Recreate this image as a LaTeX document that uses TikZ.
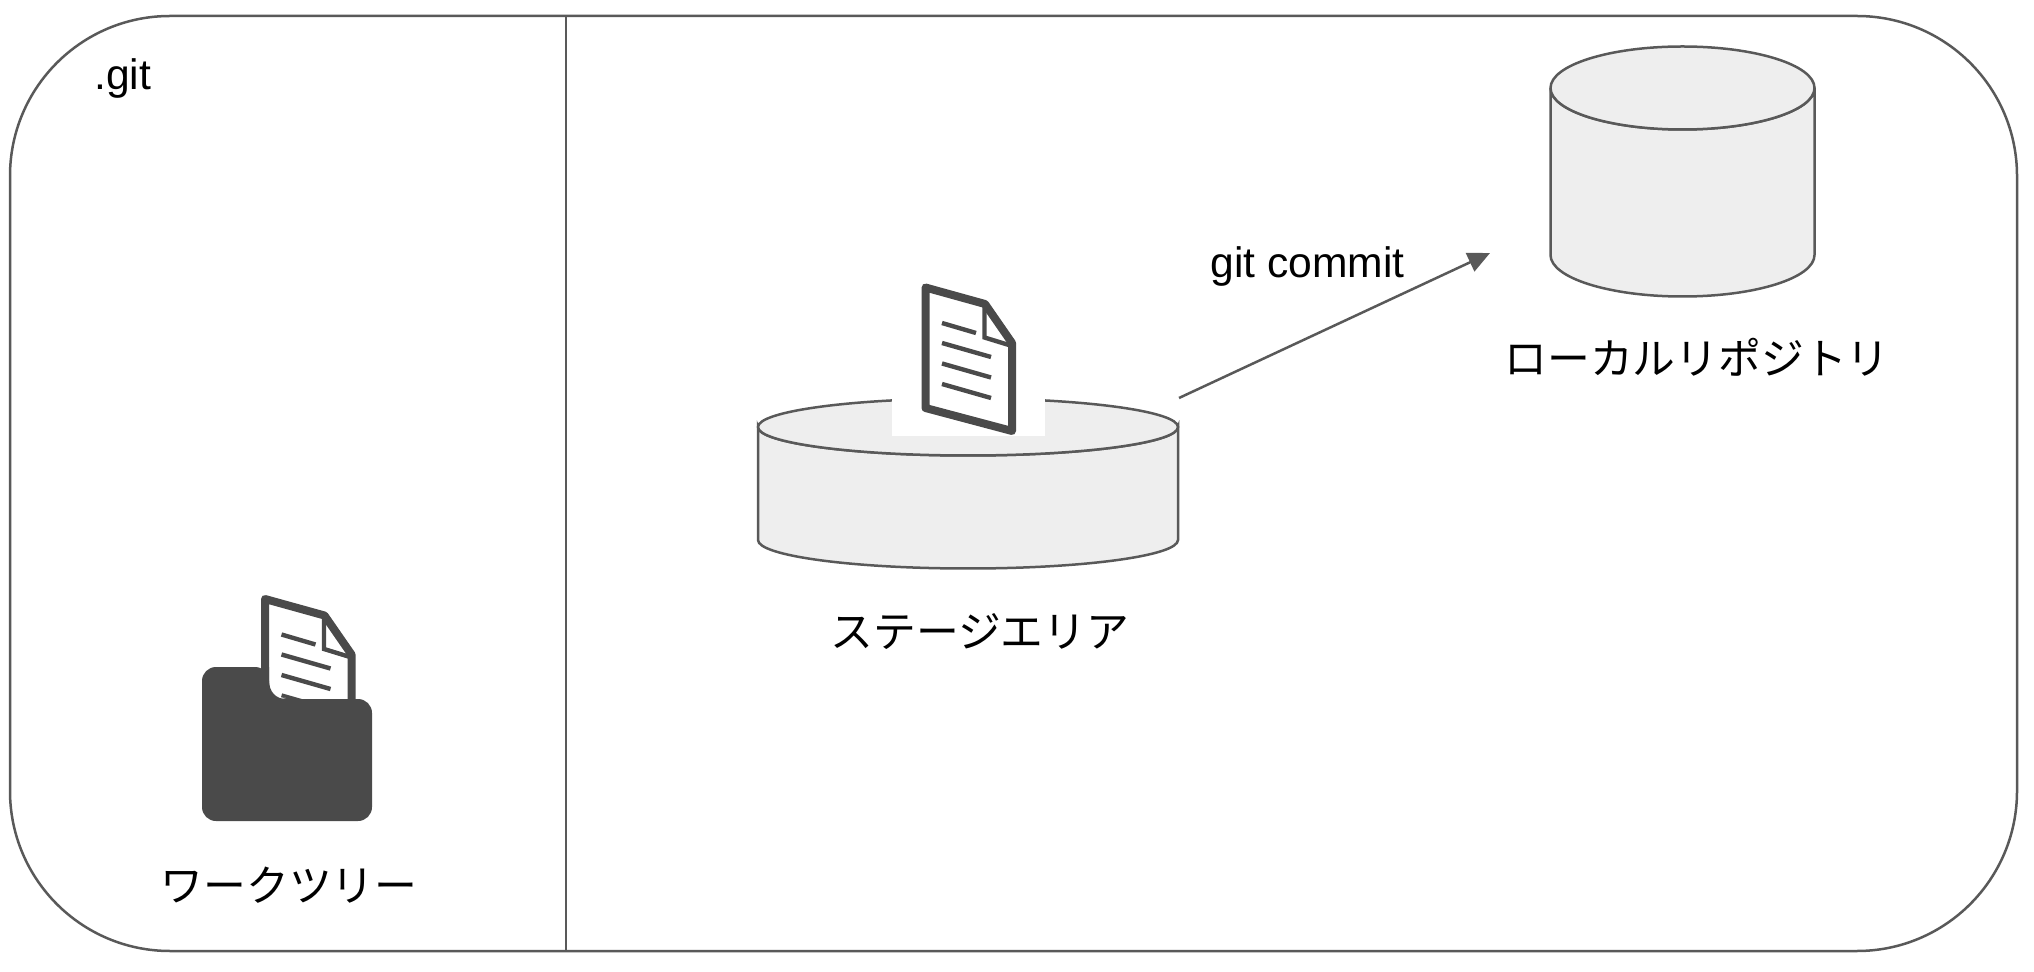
\documentclass[tikz,border=0pt]{standalone}
\usepackage{fontspec}
\setmainfont{Liberation Sans}
\newfontfamily\cjk{Noto Sans CJK JP}
\usetikzlibrary{arrows.meta}
\definecolor{edgegray}{HTML}{595959}
\definecolor{icongray}{HTML}{4A4A4A}
\definecolor{drumfill}{HTML}{EEEEEE}
\tikzset{
  edge/.style={draw=edgegray,line width=1.25pt},
  drumbody/.style={edge,fill=drumfill},
  caption/.style={font=\fontsize{21.4}{25}\selectfont\cjk,inner sep=0pt},
  latin/.style={font=\fontsize{21.3}{25}\selectfont,inner sep=0pt,anchor=base west},
  docicon/.pic={
    \draw[icongray,fill=white,line width=4pt,line join=round]
      (0,0) -- (59.5,16.5) -- (86.5,55.5) -- (86.5,143.5) -- (0,120.5) -- cycle;
    \draw[icongray,line width=2.2pt] (59,17) -- (59,50) -- (85,58);
    \draw[icongray,line width=2.2pt] (16.5,35.5) -- (50.5,45.5);
    \foreach \k in {0,1,2}
      \draw[icongray,line width=2.2pt] (16.5,55.5+20.5*\k) -- (65.5,69.5+20.5*\k);
  }
}
% centre x, x radius, top y, bottom y, y radius
\newcommand{\drum}[5]{
  \path[drumbody] (#1-#2,#3) -- (#1-#2,#4) arc[start angle=180,end angle=0,x radius=#2,y radius=#5]
    -- (#1+#2,#3) arc[start angle=0,end angle=180,x radius=#2,y radius=#5] -- cycle;
  \path[drumbody] (#1,#3) ellipse[x radius=#2,y radius=#5];
}
\begin{document}
\begin{tikzpicture}[x=0.5pt,y=-0.5pt]
  \path[use as bounding box] (0,0) rectangle (2034,972);
  \path[edge,rounded corners=80pt] (10,16) rectangle (2017,951);
  \draw[edge] (566,16) -- (566,951);
  \node[latin] (gitlabel) at (94,90) {.git};

  % work tree
  \path (265,599) pic {docicon};
  \fill[icongray,rounded corners=7pt] (202,667) -- (269,667) -- (269,699) -- (372,699) -- (372,821) -- (202,821) -- cycle;
  \fill[white] (271,670) -- (271,680) .. controls (271,692) and (276,698) .. (286,698) -- (271,698) -- cycle;
  \fill[icongray] (269,667) -- (269,680) .. controls (269,692) and (276,699) .. (286,699) -- (262,699) -- (262,667) -- cycle;
  \node[caption] (treelabel) at (289,885) {ワークツリー};

  % stage
  \drum{968}{210}{427}{540}{28.5}
  \fill[white] (892,380) rectangle (1045,436);
  \path (925.5,287.5) pic {docicon};
  \node[caption] (stagelabel) at (980,632) {ステージエリア};
  \coordinate (stagerim) at (1179,398);

  % repository
  \drum{1682.5}{132}{88}{255}{41.5}
  \node[caption] (repolabel) at (1697,357) {ローカルリポジトリ};
  \coordinate (repofoot) at (1490,253);

  \draw[edge,-{Triangle[length=11pt,width=10pt]}] (stagerim) -- (repofoot);
  \node[latin] (commitlabel) at (1210,278) {git commit};
\end{tikzpicture}
\end{document}
